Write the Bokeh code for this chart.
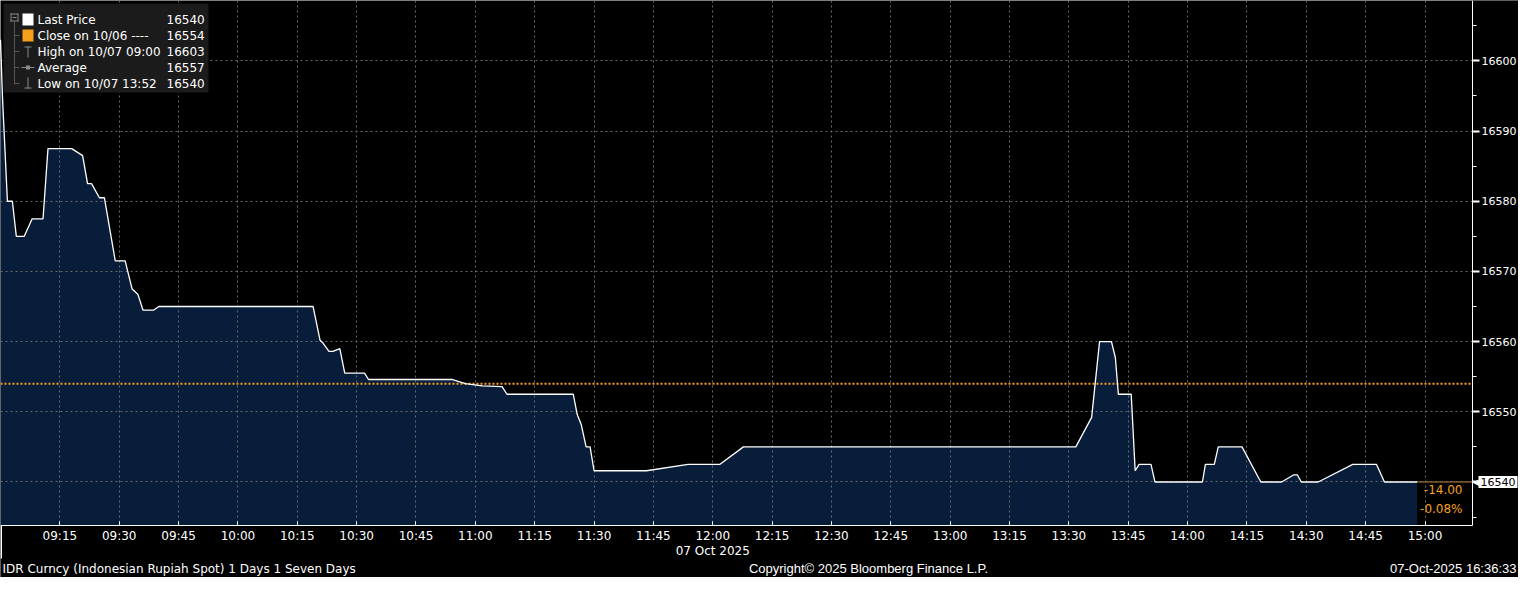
import pandas as pd
from bokeh.plotting import figure
from bokeh.models import (Range1d, Label, BoxAnnotation, FixedTicker,
                          SingleIntervalTicker, DatetimeTickFormatter)
from bokeh.embed import file_html
from bokeh.resources import INLINE

# ---------------- data ----------------
DATE = "2025-10-07"
times = ["09:00:00", "09:00:30", "09:01:45", "09:03:00", "09:04:00", "09:06:00",
         "09:08:00", "09:10:45", "09:12:00", "09:18:00", "09:20:45", "09:22:00",
         "09:23:00", "09:25:00", "09:26:15", "09:29:00", "09:31:30", "09:33:15",
         "09:34:45", "09:36:00", "09:38:45", "09:40:00", "10:19:00", "10:20:45",
         "10:21:30", "10:23:00", "10:24:00", "10:25:45", "10:27:00", "10:32:00",
         "10:33:00", "10:54:15", "10:57:30", "11:01:45", "11:06:45", "11:08:00",
         "11:24:45", "11:25:45", "11:26:45", "11:28:00", "11:29:00", "11:30:00",
         "11:43:15", "11:53:45", "12:01:45", "12:07:45", "13:31:45", "13:35:45",
         "13:37:45", "13:40:45", "13:41:45", "13:42:30", "13:45:45", "13:46:45",
         "13:47:45", "13:50:45", "13:51:45", "14:03:45", "14:04:30", "14:06:45",
         "14:07:45", "14:13:45", "14:18:30", "14:23:45", "14:26:45", "14:27:45",
         "14:28:45", "14:33:00", "14:41:45", "14:47:45", "14:49:45", "14:58:00"]
prices = [16603.0, 16594.8, 16580.0, 16580.0, 16575.0, 16575.0,
          16577.5, 16577.5, 16587.5, 16587.5, 16586.5, 16582.5,
          16582.5, 16580.5, 16580.5, 16571.5, 16571.5, 16567.5,
          16566.7, 16564.5, 16564.5, 16565.0, 16565.0, 16560.2,
          16559.8, 16558.6, 16558.6, 16559.0, 16555.5, 16555.5,
          16554.6, 16554.6, 16554.0, 16553.7, 16553.6, 16552.5,
          16552.5, 16549.6, 16548.2, 16545.0, 16545.0, 16541.6,
          16541.6, 16542.5, 16542.5, 16545.0, 16545.0, 16549.2,
          16560.0, 16560.0, 16557.7, 16552.5, 16552.5, 16541.6,
          16542.5, 16542.5, 16540.0, 16540.0, 16542.5, 16542.5,
          16545.0, 16545.0, 16540.0, 16540.0, 16541.0, 16541.0,
          16540.0, 16540.0, 16542.5, 16542.5, 16540.0, 16540.0]
prev_close = 16554
last_price = 16540
x_tick_labels = ["09:15", "09:30", "09:45", "10:00", "10:15", "10:30", "10:45",
                 "11:00", "11:15", "11:30", "11:45", "12:00", "12:15", "12:30",
                 "12:45", "13:00", "13:15", "13:30", "13:45", "14:00", "14:15",
                 "14:30", "14:45", "15:00"]
legend_labels = ["Last Price", "Close on 10/06 ----", "High on 10/07 09:00",
                 "Average", "Low on 10/07 13:52"]
legend_values = ["16540", "16554", "16603", "16557", "16540"]
change_labels = ["-14.00", "-0.08%"]
date_label = "07 Oct 2025"
footer_left = "IDR Curncy (Indonesian Rupiah Spot) 1 Days 1 Seven Days"
footer_center = "Copyright\u00a9 2025 Bloomberg Finance L.P."
footer_right = "07-Oct-2025 16:36:33"

# ---------------- geometry ----------------
def ts(t):
    return pd.Timestamp(f"{DATE} {t}")

def ms(t):
    return ts(t).value / 1e6

W, H = 1518, 577
AXW = 46                 # right axis strip width (px)
BOT = 52                 # bottom strip height (px)
PW, PH = W - AXW, H - BOT  # plotting area size (px)

x0, x1 = ms("09:00"), ms("15:12")       # plotting area x extent
y0, y1 = 16533.8, 16608.6               # plotting area y extent
x_full_end = x1 + (x1 - x0) * AXW / PW  # extend frame under right axis strip
y_full_start = y0 - (y1 - y0) * BOT / PH

xs = [ts(t) for t in times]
tick_ms = [ms(t) for t in x_tick_labels]

FONT = "DejaVu Sans"
BG = "#000000"
NAVY = "#071d3a"
ORANGE = "#f7a01e"
GRID = "#6a6a6a"
GRAYI = "#8a8a8a"

p = figure(width=W, height=H, x_axis_type="datetime",
           x_range=Range1d(x0, x_full_end), y_range=Range1d(y_full_start, y1),
           output_backend="svg", toolbar_location=None,
           background_fill_color=BG, border_fill_color=BG,
           outline_line_color=None, y_axis_location="right",
           min_border=0, min_border_left=0, min_border_right=0,
           min_border_top=0, min_border_bottom=0)

# ---------------- axes (real axes, pinned at the plot-area edges) ----------------
xa = p.xaxis[0]
xa.fixed_location = y0
xa.bounds = (x0, x1)
xa.ticker = FixedTicker(ticks=tick_ms)
xa.formatter = DatetimeTickFormatter(minutes="%H:%M", hourmin="%H:%M",
                                     hours="%H:%M", minsec="%H:%M")
xa.axis_line_color = "white"
xa.major_tick_line_color = "white"
xa.major_tick_in = 4
xa.major_tick_out = 0
xa.minor_tick_line_color = None
xa.major_label_text_color = "white"
xa.major_label_text_font = FONT
xa.major_label_text_font_size = "12px"
xa.major_label_standoff = 3

ya = p.yaxis[0]
ya.fixed_location = x1
ya.bounds = (y0, y1)
ya.ticker = SingleIntervalTicker(interval=10, num_minor_ticks=2)
ya.axis_line_color = "white"
ya.major_tick_line_color = "white"
ya.major_tick_line_width = 2
ya.major_tick_in = 0
ya.major_tick_out = 7
ya.minor_tick_line_color = "white"
ya.minor_tick_in = 0
ya.minor_tick_out = 4
ya.major_label_text_color = "white"
ya.major_label_text_font = FONT
ya.major_label_text_font_size = "11px"
ya.major_label_standoff = 2

for g in (p.xgrid, p.ygrid):
    g.grid_line_color = GRID
    g.grid_line_dash = "2 3"
    g.grid_line_width = 1
    g.level = "glyph"

# black strips hiding grid lines outside the plotting area
p.add_layout(BoxAnnotation(left=x1, fill_color=BG, fill_alpha=1,
                           line_color=None, level="glyph"))
p.add_layout(BoxAnnotation(top=y0, fill_color=BG, fill_alpha=1,
                           line_color=None, level="glyph"))

# ---------------- data marks ----------------
p.varea(x=xs, y1=[y0] * len(xs), y2=prices, fill_color=NAVY, level="underlay")
p.segment(x0=[x0], y0=[prev_close], x1=[x1], y1=[prev_close],
          line_color=ORANGE, line_dash="2 2", line_width=2)
p.segment(x0=[xs[-1]], y0=[last_price], x1=[x1], y1=[last_price],
          line_color="#c8872f", line_width=1)
p.line(xs, prices, line_color="white", line_width=1.3, level="guide")

# change labels
for i, txt in enumerate(change_labels):
    p.add_layout(Label(x=PW - 10, y=last_price, x_units="canvas",
                       text=txt, text_align="right", text_baseline="top",
                       y_offset=-3 - 17 * i, text_color=ORANGE,
                       text_font=FONT, text_font_size="12px", level="overlay"))

# last price box on the axis
p.add_layout(Label(x=PW, y=last_price, x_units="canvas", text="\u25c0",
                   text_align="left", text_baseline="middle", text_color="white",
                   text_font=FONT, text_font_size="9px", level="overlay"))
p.add_layout(Label(x=PW + 6, y=last_price, x_units="canvas", text=legend_values[0],
                   text_align="left", text_baseline="middle", text_color="black",
                   background_fill_color="white", text_font=FONT,
                   text_font_size="11px", padding=2, level="overlay"))

# ---------------- legend (canvas px, y from top) ----------------
def box(l, t, r, b, color):
    p.add_layout(BoxAnnotation(left=l, right=r, top=t, bottom=b,
                               left_units="canvas", right_units="canvas",
                               top_units="canvas", bottom_units="canvas",
                               fill_color=color, fill_alpha=1, line_color=None,
                               level="overlay"))

box(3, 3, 208, 92, "#1b1b1b")
row_y = [19, 35, 51, 67, 83]
# tree
box(10, 13, 18, 14, GRAYI); box(10, 20, 18, 21, GRAYI)
box(10, 13, 11, 21, GRAYI); box(17, 13, 18, 21, GRAYI)
box(12, 16.5, 16, 17.5, GRAYI)
box(13.5, 21, 14.5, 84, "#555555")
for yy in row_y[1:]:
    box(14, yy - 0.5, 19, yy + 0.5, "#555555")
# icons
box(22, 13, 33, 25, "white")
box(22, 29, 33, 41, ORANGE)
box(24, 46, 31, 47, GRAYI); box(27, 46, 28, 57, GRAYI)
box(21, 66.5, 34, 67.5, GRAYI); box(25.5, 65, 29.5, 69, GRAYI)
box(27, 77, 28, 88, GRAYI); box(24, 87, 31, 88, GRAYI)

for yy, lab, val in zip(row_y, legend_labels, legend_values):
    p.add_layout(Label(x=37, y=yy, x_units="canvas", y_units="canvas",
                       text=lab, text_baseline="middle", text_color="white",
                       text_font=FONT, text_font_size="12px", level="overlay"))
    p.add_layout(Label(x=166, y=yy, x_units="canvas", y_units="canvas",
                       text=val, text_baseline="middle", text_color="white",
                       text_font=FONT, text_font_size="12px", level="overlay"))

# ---------------- bottom texts ----------------
box(0, PH, 1.5, H - 19, "white")
p.add_layout(Label(x=ts("12:00"), y=H - 27, y_units="canvas", text=date_label,
                   text_align="center", text_baseline="middle",
                   text_color="white", text_font=FONT, text_font_size="12px",
                   level="overlay"))
p.add_layout(Label(x=2, y=H - 9, x_units="canvas", y_units="canvas",
                   text=footer_left, text_align="left", text_baseline="middle",
                   text_color="white", text_font=FONT, text_font_size="12px",
                   level="overlay"))
p.add_layout(Label(x=868, y=H - 9, x_units="canvas", y_units="canvas",
                   text=footer_center, text_align="center", text_baseline="middle",
                   text_color="white", text_font="Liberation Sans",
                   text_font_size="13px", level="overlay"))
p.add_layout(Label(x=W - 2, y=H - 9, x_units="canvas", y_units="canvas",
                   text=footer_right, text_align="right", text_baseline="middle",
                   text_color="white", text_font="Liberation Sans",
                   text_font_size="13px", level="overlay"))

open("out.html", "w").write(file_html(p, INLINE))
